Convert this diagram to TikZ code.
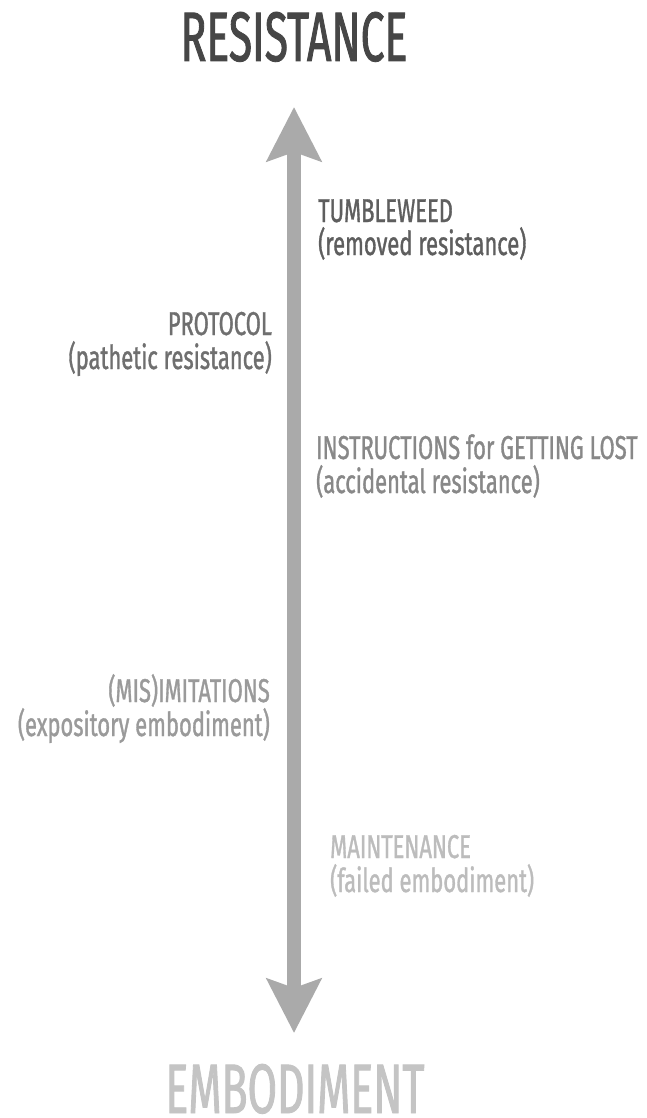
\documentclass[tikz,border=0pt]{standalone}
\usepackage{fontspec}
\setmainfont[FakeStretch=0.62]{Fira Sans}
\newfontfamily\titlefont[FakeStretch=0.61,FakeBold=1.2]{Fira Sans}
\newfontfamily\lblfont[FakeStretch=0.665,FakeBold=1]{Fira Sans}
\usetikzlibrary{arrows.meta}
\definecolor{cRes}{HTML}{464646}
\definecolor{cTum}{HTML}{5E5E5E}
\definecolor{cPro}{HTML}{6F6F6F}
\definecolor{cIns}{HTML}{888888}
\definecolor{cMis}{HTML}{9A9A9A}
\definecolor{cMai}{HTML}{BCBCBC}
\definecolor{cEmb}{HTML}{C4C4C4}
\definecolor{cArr}{HTML}{AAAAAA}
\begin{document}
\begin{tikzpicture}[x=1pt,y=-1pt,
  title/.style={font=\titlefont\fontsize{70}{70}\selectfont, inner sep=0pt, anchor=base},
  lbl/.style={font=\lblfont\fontsize{33}{33}\selectfont, inner sep=0pt},
  lblL/.style={lbl, anchor=base west},
  lblR/.style={lbl, anchor=base east},
  axis/.style={draw=cArr, line width=14pt, {Stealth[length=54pt,width=54pt,inset=9pt]}-{Stealth[length=54pt,width=54pt,inset=9pt]}}]
\path[use as bounding box, fill=white] (0,0) rectangle (646,1118);
\node[title, text=cRes] (res) at (294,61) {RESISTANCE};
\node[title, text=cEmb] (emb) at (295,1113) {EMBODIMENT};
\coordinate (top) at (294,107);
\coordinate (bot) at (294,1033);
\draw[axis] (bot) -- (top);
\node[lblL, text=cTum] (tw1) at (318,222) {TUMBLEWEED};
\node[lblL, text=cTum] (tw2) at (318,255) {(removed resistance)};
\node[lblR, text=cPro] (pr1) at (272,335) {PROTOCOL};
\node[lblR, text=cPro] (pr2) at (272,369) {(pathetic resistance)};
\node[lblL, text=cIns] (in1) at (316,459) {INSTRUCTIONS for GETTING LOST};
\node[lblL, text=cIns] (in2) at (316,493) {(accidental resistance)};
\node[lblR, text=cMis] (mi1) at (270,702) {(MIS)IMITATIONS};
\node[lblR, text=cMis] (mi2) at (270,736) {(expository embodiment)};
\node[lblL, text=cMai] (ma1) at (330,858) {MAINTENANCE};
\node[lblL, text=cMai] (ma2) at (330,892) {(failed embodiment)};
\end{tikzpicture}
\end{document}
